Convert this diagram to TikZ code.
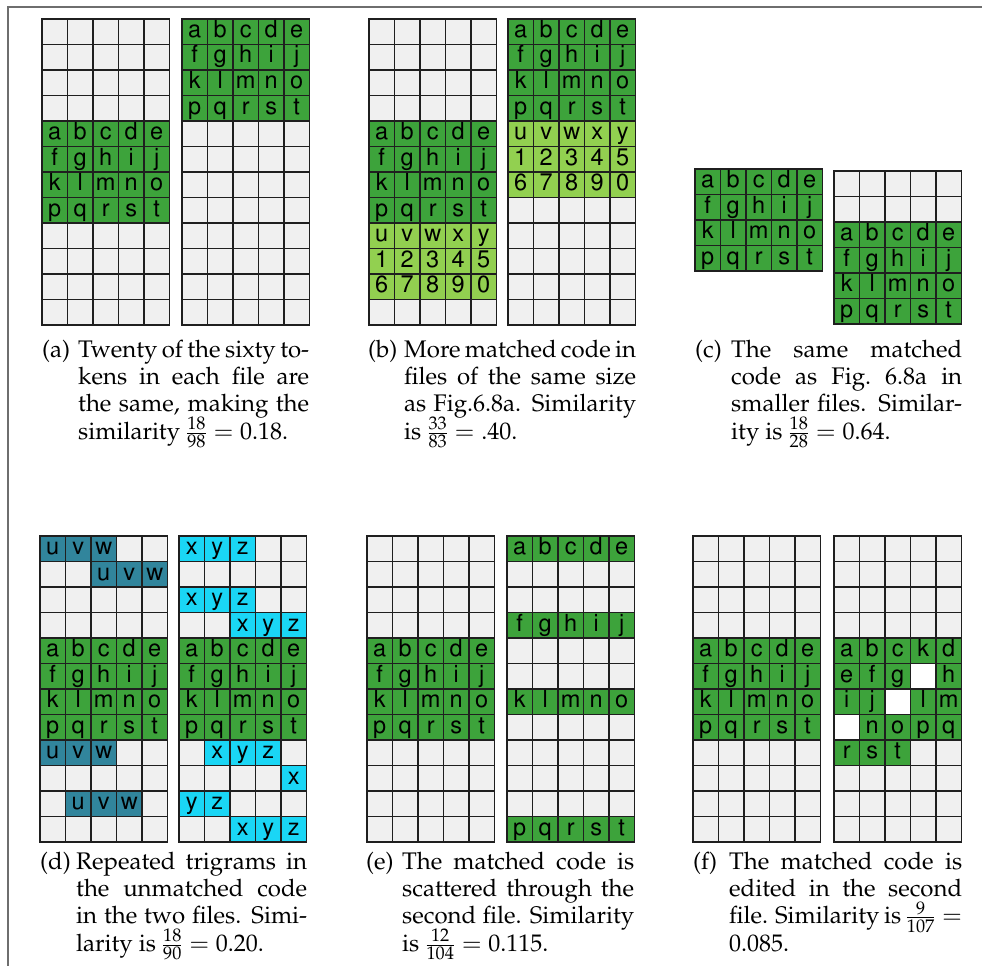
\documentclass[tikz,border=0pt]{standalone}
\usepackage[T1]{fontenc}
\usepackage{mathpazo}
\definecolor{em}{HTML}{F0F0F0}
\definecolor{gr}{HTML}{3DA33B}
\definecolor{lg}{HTML}{92D050}
\definecolor{te}{HTML}{31859C}
\definecolor{cy}{HTML}{1AD6F5}
\definecolor{wh}{HTML}{FFFFFF}
\definecolor{cellline}{HTML}{1F1F1F}
\definecolor{framegray}{HTML}{6E6E6E}
\tikzset{
  cellbox/.style={draw=cellline, line width=1.8pt, minimum size=25.5pt, inner sep=0pt,
    font=\fontfamily{phv}\fontsize{23.5}{23.5}\selectfont, text height=16pt, text depth=4.5pt},
  captext/.style={anchor=north west, inner sep=0pt,
    font=\fontsize{24}{27.3}\selectfont}
}
\def\EMP{{em/{},em/{},em/{},em/{},em/{}}}
\def\RA{{gr/a,gr/b,gr/c,gr/d,gr/e}}
\def\RB{{gr/f,gr/g,gr/h,gr/i,gr/j}}
\def\RC{{gr/k,gr/l,gr/m,gr/n,gr/o}}
\def\RD{{gr/p,gr/q,gr/r,gr/s,gr/t}}
\def\LA{{lg/u,lg/v,lg/w,lg/x,lg/y}}
\def\LB{{lg/1,lg/2,lg/3,lg/4,lg/5}}
\def\LC{{lg/6,lg/7,lg/8,lg/9,lg/0}}
\newcommand\tokgrid[4]{%
  \edef\tgrows{#4}%
  \foreach[count=\ri from 0] \row in \tgrows {%
    \foreach[count=\ci from 0] \cc/\lt in \row {%
      \node[cellbox,fill=\cc] (#1-\ri-\ci) at ({#2+12.75+25.5*\ci},{#3+12.75+25.5*\ri}) {\lt};
    }}}
% caption: label, width, three justified lines, last line
\newcommand\capbox[6]{%
  \vbox{\hsize=#2pt\baselineskip=27.3pt\lineskiplimit=-100pt
    \spaceskip=.25em plus .3em minus .15em
    \hbox to \hsize{\hbox to 36pt{\strut(#1)\hfil}#3}%
    \hbox to \hsize{\hskip36pt #4}%
    \hbox to \hsize{\hskip36pt #5}%
    \hbox{\hskip36pt #6}}}
\begin{document}
\begin{tikzpicture}[x=1pt,y=-1pt]
\useasboundingbox (0,0) rectangle (982,966);
\fill[white] (0,0) rectangle (982,966);
\draw[framegray, line width=1.5pt] (982,7) -- (8,7) -- (8,966);
% (a)
\tokgrid{aL}{42}{19}{\EMP,\EMP,\EMP,\EMP,\RA,\RB,\RC,\RD,\EMP,\EMP,\EMP,\EMP}
\tokgrid{aR}{182}{19}{\RA,\RB,\RC,\RD,\EMP,\EMP,\EMP,\EMP,\EMP,\EMP,\EMP,\EMP}
% (b)
\tokgrid{bL}{369}{19}{\EMP,\EMP,\EMP,\EMP,\RA,\RB,\RC,\RD,\LA,\LB,\LC,\EMP}
\tokgrid{bR}{508}{19}{\RA,\RB,\RC,\RD,\LA,\LB,\LC,\EMP,\EMP,\EMP,\EMP,\EMP}
% (c)
\tokgrid{cL}{695}{169}{\RA,\RB,\RC,\RD}
\tokgrid{cR}{834}{171}{\EMP,\EMP,\RA,\RB,\RC,\RD}
% (d)
\tokgrid{dL}{40}{536}{{te/u,te/v,te/w,em/{},em/{}},{em/{},em/{},te/u,te/v,te/w},\EMP,\EMP,\RA,\RB,\RC,\RD,{te/u,te/v,te/w,em/{},em/{}},\EMP,{em/{},te/u,te/v,te/w,em/{}},\EMP}
\tokgrid{dR}{179}{536}{{cy/x,cy/y,cy/z,em/{},em/{}},\EMP,{cy/x,cy/y,cy/z,em/{},em/{}},{em/{},em/{},cy/x,cy/y,cy/z},\RA,\RB,\RC,\RD,{em/{},cy/x,cy/y,cy/z,em/{}},{em/{},em/{},em/{},em/{},cy/x},{cy/y,cy/z,em/{},em/{},em/{}},{em/{},em/{},cy/x,cy/y,cy/z}}
% (e)
\tokgrid{eL}{367}{536}{\EMP,\EMP,\EMP,\EMP,\RA,\RB,\RC,\RD,\EMP,\EMP,\EMP,\EMP}
\tokgrid{eR}{507}{536}{\RA,\EMP,\EMP,\RB,\EMP,\EMP,\RC,\EMP,\EMP,\EMP,\EMP,\RD}
% (f)
\tokgrid{fL}{693}{536}{\EMP,\EMP,\EMP,\EMP,\RA,\RB,\RC,\RD,\EMP,\EMP,\EMP,\EMP}
\tokgrid{fR}{834}{536}{\EMP,\EMP,\EMP,\EMP,{gr/a,gr/b,gr/c,gr/k,gr/d},{gr/e,gr/f,gr/g,wh/{},gr/h},{gr/i,gr/j,wh/{},gr/l,gr/m},{wh/{},gr/n,gr/o,gr/p,gr/q},{gr/r,gr/s,gr/t,em/{},em/{}},\EMP,\EMP,\EMP}
% captions
\node[captext] (capA) at (42,337.9) {\capbox{a}{267}{Twenty of the sixty to-}{kens in each file are}{the same, making the}{similarity $\frac{18}{98}=0.18$.}};
\node[captext] (capB) at (368,337.9) {\capbox{b}{268}{More matched code in}{files of the same size}{as Fig.6.8a. Similarity}{is $\frac{33}{83}=.40$.}};
\node[captext] (capC) at (695,337.9) {\capbox{c}{267}{The same matched}{code as Fig.\ 6.8a in}{smaller files. Similar-}{ity is $\frac{18}{28}=0.64$.}};
\node[captext] (capD) at (40,849.9) {\capbox{d}{267}{Repeated trigrams in}{the unmatched code}{in the two files. Simi-}{larity is $\frac{18}{90}=0.20$.}};
\node[captext] (capE) at (366,849.9) {\capbox{e}{268}{The matched code is}{scattered through the}{second file. Similarity}{is $\frac{12}{104}=0.115$.}};
\node[captext] (capF) at (693,849.9) {\capbox{f}{269}{The matched code is}{edited in the second}{file. Similarity is $\frac{9}{107}=$}{0.085.}};
\end{tikzpicture}
\end{document}
